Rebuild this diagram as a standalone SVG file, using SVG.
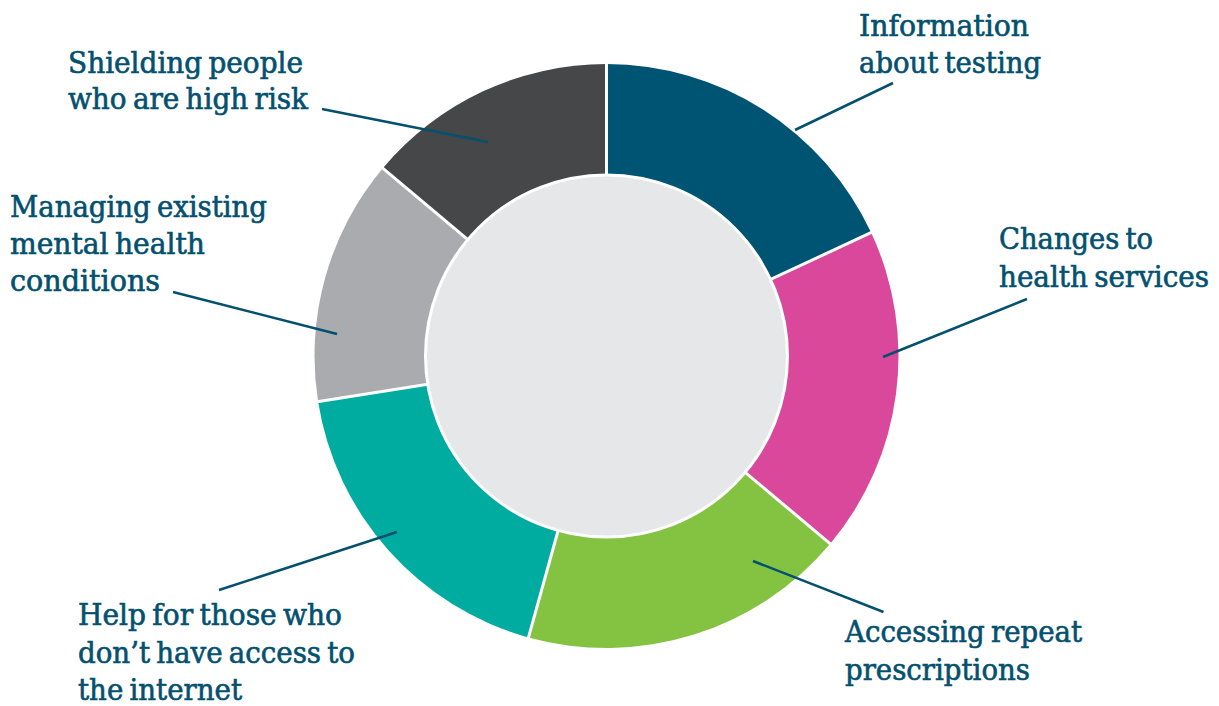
<svg xmlns="http://www.w3.org/2000/svg" width="1219" height="706" viewBox="0 0 1219 706">
<style>
  .lbl { font-family: "DejaVu Serif Condensed", "DejaVu Serif", "Liberation Serif", serif; font-stretch: condensed; font-size: 30px; word-spacing: -2.5px; fill: #03506F; stroke: #03506F; stroke-width: 0.6; }
  .sep { stroke: #FFFFFF; stroke-width: 3; }
  .lead { stroke: #03506F; stroke-width: 2.5; fill: none; stroke-linecap: butt; }
</style>
<rect width="1219" height="706" fill="#FFFFFF"/>
<g id="seg-testing">
  <path d="M606.5,356 L606.5,64 A292,292 0 0 1 871.1,232.6 Z" fill="#005473"/>
  <text class="lbl" x="859" y="36" textLength="170" lengthAdjust="spacingAndGlyphs">Information</text>
  <text class="lbl" x="859" y="73" textLength="182" lengthAdjust="spacingAndGlyphs">about testing</text>
</g>
<g id="seg-services">
  <path d="M606.5,356 L871.1,232.6 A292,292 0 0 1 830.2,543.7 Z" fill="#D9489A"/>
  <text class="lbl" x="999" y="249" textLength="154" lengthAdjust="spacingAndGlyphs">Changes to</text>
  <text class="lbl" x="999" y="287" textLength="210" lengthAdjust="spacingAndGlyphs">health services</text>
</g>
<g id="seg-prescriptions">
  <path d="M606.5,356 L830.2,543.7 A292,292 0 0 1 528.5,637.4 Z" fill="#83C341"/>
  <text class="lbl" x="845" y="642" textLength="237" lengthAdjust="spacingAndGlyphs">Accessing repeat</text>
  <text class="lbl" x="845" y="680" textLength="185" lengthAdjust="spacingAndGlyphs">prescriptions</text>
</g>
<g id="seg-internet">
  <path d="M606.5,356 L528.5,637.4 A292,292 0 0 1 318.1,401.7 Z" fill="#00AC9F"/>
  <text class="lbl" x="78" y="625" textLength="264" lengthAdjust="spacingAndGlyphs">Help for those who</text>
  <text class="lbl" x="78" y="663" textLength="277" lengthAdjust="spacingAndGlyphs">don’t have access to</text>
  <text class="lbl" x="78" y="700" textLength="164" lengthAdjust="spacingAndGlyphs">the internet</text>
</g>
<g id="seg-mental-health">
  <path d="M606.5,356 L318.1,401.7 A292,292 0 0 1 382.8,168.3 Z" fill="#AAABAE"/>
  <text class="lbl" x="10" y="217" textLength="257" lengthAdjust="spacingAndGlyphs">Managing existing</text>
  <text class="lbl" x="10" y="254" textLength="195" lengthAdjust="spacingAndGlyphs">mental health</text>
  <text class="lbl" x="10" y="291" textLength="150" lengthAdjust="spacingAndGlyphs">conditions</text>
</g>
<g id="seg-shielding">
  <path d="M606.5,356 L382.8,168.3 A292,292 0 0 1 606.5,64 Z" fill="#464749"/>
  <text class="lbl" x="68" y="73" textLength="235" lengthAdjust="spacingAndGlyphs">Shielding people</text>
  <text class="lbl" x="68" y="109" textLength="240" lengthAdjust="spacingAndGlyphs">who are high risk</text>
</g>
<g id="separators">
  <line class="sep" x1="606.5" y1="356" x2="606.5" y2="60"/>
  <line class="sep" x1="606.5" y1="356" x2="874.7" y2="230.9"/>
  <line class="sep" x1="606.5" y1="356" x2="833.3" y2="546.3"/>
  <line class="sep" x1="606.5" y1="356" x2="527.4" y2="641.3"/>
  <line class="sep" x1="606.5" y1="356" x2="314.1" y2="402.3"/>
  <line class="sep" x1="606.5" y1="356" x2="379.7" y2="165.7"/>
</g>
<g id="center">
  <circle cx="606.5" cy="356" r="181" fill="#E6E7E8" stroke="#FFFFFF" stroke-width="3"/>
</g>
<g id="connectors">
  <line class="lead" x1="893" y1="83" x2="795" y2="130"/>
  <line class="lead" x1="1027" y1="299" x2="883" y2="357"/>
  <line class="lead" x1="753" y1="561" x2="883.5" y2="612"/>
  <line class="lead" x1="219" y1="590" x2="397" y2="532"/>
  <line class="lead" x1="173" y1="292" x2="337" y2="334"/>
  <line class="lead" x1="322" y1="109" x2="488" y2="142"/>
</g>
</svg>
